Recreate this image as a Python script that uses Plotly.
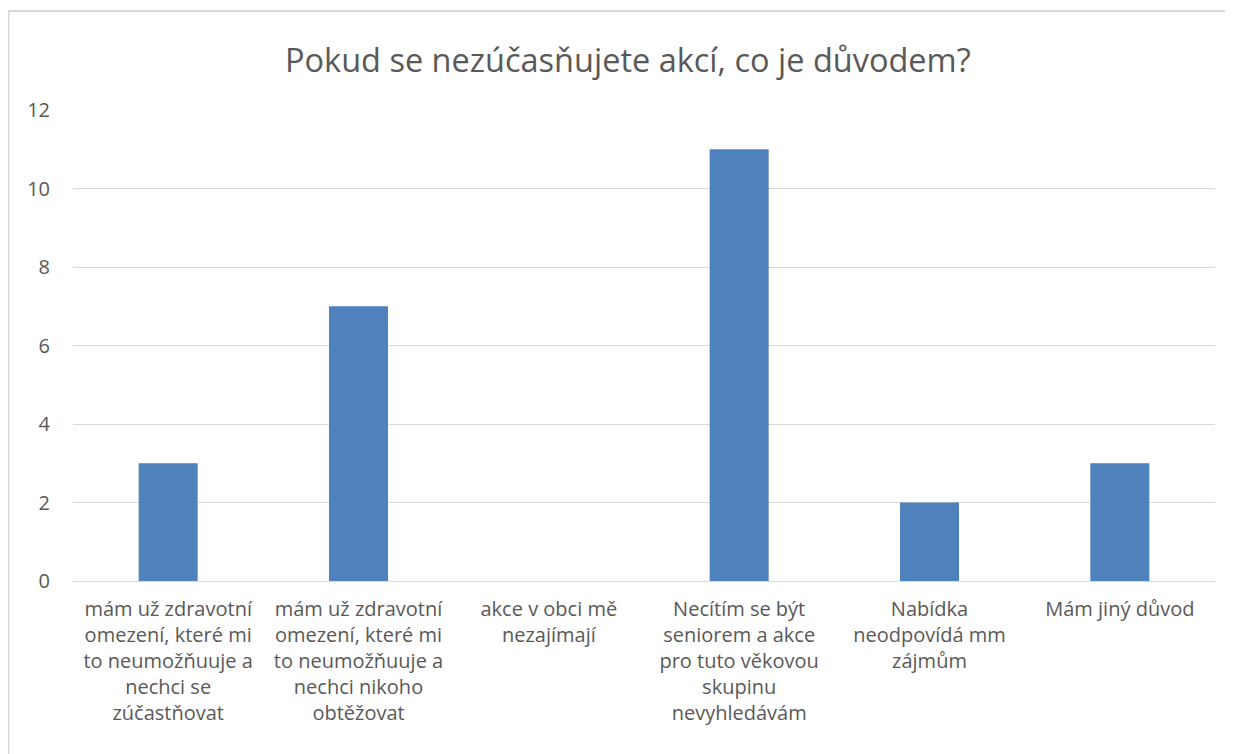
import plotly.graph_objects as go

categories = [
    "mám už zdravotní<br>omezení, které mi<br>to neumožňuuje a<br>nechci se<br>zúčastňovat",
    "mám už zdravotní<br>omezení, které mi<br>to neumožňuuje a<br>nechci nikoho<br>obtěžovat",
    "akce v obci mě<br>nezajímají",
    "Necítím se být<br>seniorem a akce<br>pro tuto věkovou<br>skupinu<br>nevyhledávám",
    "Nabídka<br>neodpovídá mm<br>zájmům",
    "Mám jiný důvod",
]
values = [3, 7, 0, 11, 2, 3]
y_ticks = [0, 2, 4, 6, 8, 10, 12]
title_text = "Pokud se nezúčasňujete akcí, co je důvodem?"

FONT = "'Open Sans', sans-serif"
GRAY = "#595959"

# page body has an 8px margin; figure sized so plot area lands at x 73-1215, y 110-581
OFF = 8
W, H = 1233 - OFF, 754 - OFF
ML, MR, MT, MB = 73 - OFF, 18, 110 - OFF, 173
PW, PH = W - ML - MR, H - MT - MB

fig = go.Figure(go.Bar(
    x=list(range(len(categories))), y=values,
    marker=dict(color="#4F81BD", line=dict(width=0)),
    width=0.31,
))

fig.update_layout(
    width=W, height=H,
    margin=dict(l=ML, r=MR, t=MT, b=MB),
    paper_bgcolor="white", plot_bgcolor="white",
    showlegend=False,
    font=dict(family=FONT, color=GRAY, size=20),
    annotations=[dict(
        text=title_text, xref="paper", yref="paper",
        x=(628 - 73) / PW, y=1 + (110 - 59) / PH,
        xanchor="center", yanchor="middle", showarrow=False,
        font=dict(family=FONT, size=32.5, color=GRAY),
    )],
    shapes=[dict(
        type="rect", xref="paper", yref="paper",
        x0=(8.5 - 73) / PW, x1=(1245 - 73) / PW,
        y0=-(770 - 581) / PH, y1=1 + (110 - 11) / PH,
        line=dict(color="#D9D9D9", width=2), layer="below",
    )],
)

fig.update_xaxes(
    tickmode="array", tickvals=list(range(len(categories))), ticktext=categories,
    range=[-0.5, len(categories) - 0.5],
    showgrid=False, showline=True, linecolor="#D9D9D9", linewidth=1,
    ticks="", tickfont=dict(family=FONT, size=20, color=GRAY),
    ticklabelstandoff=10, tickangle=0,
)
fig.update_yaxes(
    range=[0, 12], tickmode="array", tickvals=y_ticks,
    showgrid=True, gridcolor="#D9D9D9", gridwidth=1,
    zeroline=False, showline=False, ticks="",
    tickfont=dict(family=FONT, size=20, color=GRAY),
    ticklabelstandoff=22,
)

fig.write_html("out.html")
